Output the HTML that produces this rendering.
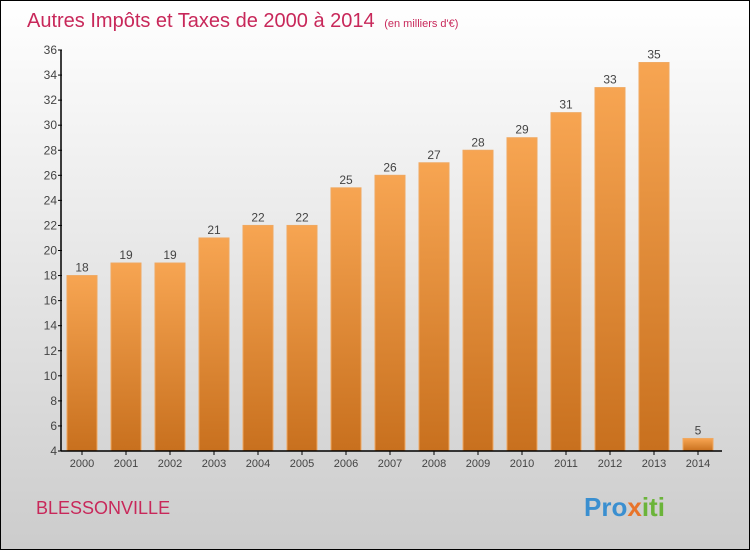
<!DOCTYPE html>
<html><head><meta charset="utf-8"><style>
body{margin:0;width:750px;height:550px;overflow:hidden;font-family:"Liberation Sans",sans-serif}
</style></head><body>
<svg id="c" width="750" height="550" xmlns="http://www.w3.org/2000/svg">
<defs>
<linearGradient id="bg" x1="0" y1="0" x2="0" y2="1"><stop offset="0" stop-color="#ffffff"/><stop offset="1" stop-color="#cccccc"/></linearGradient>
<linearGradient id="bar" x1="0" y1="0" x2="0" y2="1"><stop offset="0" stop-color="#f7a552"/><stop offset="1" stop-color="#c8701e"/></linearGradient>
</defs>
<rect x="0.5" y="0.5" width="749" height="549" fill="url(#bg)" stroke="#000"/>
<text x="27" y="27" font-size="20" fill="#c8285a">Autres Impôts et Taxes de 2000 à 2014 <tspan font-size="11" dx="4">(en milliers d'€)</tspan></text>
<text x="36" y="514" font-size="18" fill="#c8285a">BLESSONVILLE</text>
<text x="584" y="516" font-size="26" font-weight="bold" fill="#3a8fd0">Pro<tspan fill="#e8742a">x</tspan><tspan fill="#6bb43a">iti</tspan></text>
<g id="plot"></g>
</svg>
<script>
const categories=["2000","2001","2002","2003","2004","2005","2006","2007","2008","2009","2010","2011","2012","2013","2014"];
const values=[18,19,19,21,22,22,25,26,27,28,29,31,33,35,5];
const yTicks=[4,6,8,10,12,14,16,18,20,22,24,26,28,30,32,34,36];
const NS="http://www.w3.org/2000/svg";
const g=document.getElementById('plot');
const y=v=>451-(v-4)*(401/32);
const x=i=>82+i*44;
function mk(t,a,txt){const e=document.createElementNS(NS,t);for(const k in a)e.setAttribute(k,a[k]);if(txt!==undefined)e.textContent=txt;g.appendChild(e);return e;}
categories.forEach((c,i)=>{
 const r=mk('rect',{x:x(i)-15,y:y(values[i]),width:30,height:451-y(values[i]),fill:'url(#bar)',stroke:'#f0a860','stroke-width':1});
 
 
 const l=mk('text',{x:x(i),y:y(values[i])-4,'font-size':12,fill:'#444','text-anchor':'middle'},values[i]);
 
 
 const tk=mk('line',{x1:x(i),x2:x(i),y1:451,y2:455,stroke:'#000'});
 
 
 const tl=mk('text',{x:x(i),y:467,'font-size':11,fill:'#444','text-anchor':'middle'},c);
 
 
});
yTicks.forEach(v=>{
 const tk=mk('line',{x1:58,x2:62,y1:y(v),y2:y(v),stroke:'#000'});
 
 
 const tl=mk('text',{x:57,y:y(v)+4,'font-size':12,fill:'#444','text-anchor':'end'},v);
 
 
});
const ya=mk('line',{x1:61,x2:61,y1:50,y2:451,stroke:'#000','stroke-width':1.5});


const xa=mk('line',{x1:61,x2:722,y1:451,y2:451,stroke:'#000','stroke-width':1.5});


</script>
</body></html>
